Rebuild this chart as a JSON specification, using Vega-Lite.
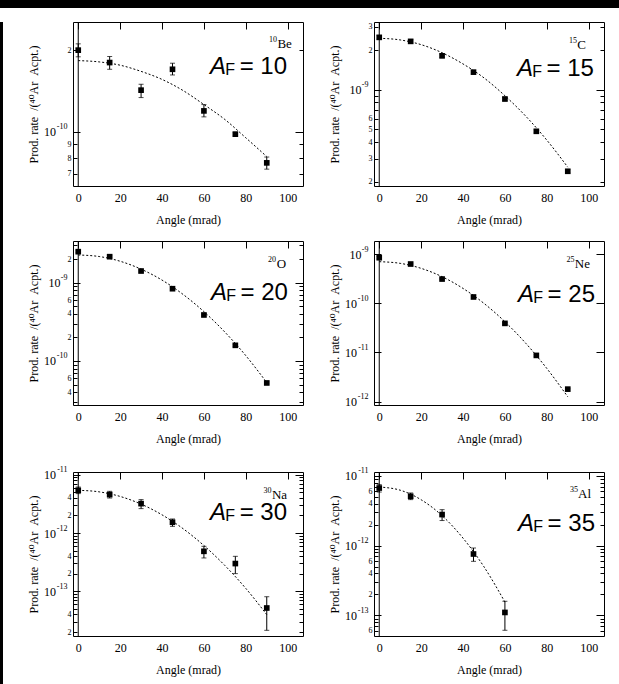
{
  "$schema": "https://vega.github.io/schema/vega-lite/v6.json",
  "background": "white",
  "padding": 0,
  "config": {
    "view": {"stroke": "black", "strokeWidth": 1},
    "axis": {"domain": false, "grid": false, "labelFont": "Liberation Serif", "titleFont": "Liberation Serif, DejaVu Serif", "labelColor": "black", "titleColor": "black", "tickColor": "black", "titleFontWeight": "normal", "labelFontSize": 12, "titleFontSize": 12, "tickWidth": 1}
  },
  "datasets": {
    "points": [
      {"panel": "Be", "angle": 0, "rate": 2.0e-10, "lo": 1.89e-10, "hi": 2.11e-10},
      {"panel": "Be", "angle": 15, "rate": 1.8e-10, "lo": 1.7e-10, "hi": 1.895e-10},
      {"panel": "Be", "angle": 30, "rate": 1.424e-10, "lo": 1.337e-10, "hi": 1.497e-10},
      {"panel": "Be", "angle": 45, "rate": 1.7e-10, "lo": 1.62e-10, "hi": 1.79e-10},
      {"panel": "Be", "angle": 60, "rate": 1.194e-10, "lo": 1.135e-10, "hi": 1.26e-10},
      {"panel": "Be", "angle": 75, "rate": 9.8e-11, "lo": 9.65e-11, "hi": 9.95e-11},
      {"panel": "Be", "angle": 90, "rate": 7.68e-11, "lo": 7.28e-11, "hi": 8.07e-11},
      {"panel": "C", "angle": 0, "rate": 2.5e-9, "lo": 2.42e-9, "hi": 2.58e-9},
      {"panel": "C", "angle": 15, "rate": 2.33e-9, "lo": 2.26e-9, "hi": 2.4e-9},
      {"panel": "C", "angle": 30, "rate": 1.81e-9, "lo": 1.75e-9, "hi": 1.87e-9},
      {"panel": "C", "angle": 45, "rate": 1.36e-9, "lo": 1.32e-9, "hi": 1.4e-9},
      {"panel": "C", "angle": 60, "rate": 8.5e-10, "lo": 8.25e-10, "hi": 8.75e-10},
      {"panel": "C", "angle": 75, "rate": 4.83e-10, "lo": 4.7e-10, "hi": 4.96e-10},
      {"panel": "C", "angle": 90, "rate": 2.4e-10, "lo": 2.33e-10, "hi": 2.47e-10},
      {"panel": "O", "angle": 0, "rate": 2.49e-9, "lo": 2.42e-9, "hi": 2.56e-9},
      {"panel": "O", "angle": 15, "rate": 2.15e-9, "lo": 2.09e-9, "hi": 2.21e-9},
      {"panel": "O", "angle": 30, "rate": 1.41e-9, "lo": 1.37e-9, "hi": 1.45e-9},
      {"panel": "O", "angle": 45, "rate": 8.38e-10, "lo": 8.15e-10, "hi": 8.6e-10},
      {"panel": "O", "angle": 60, "rate": 3.87e-10, "lo": 3.76e-10, "hi": 3.98e-10},
      {"panel": "O", "angle": 75, "rate": 1.585e-10, "lo": 1.54e-10, "hi": 1.63e-10},
      {"panel": "O", "angle": 90, "rate": 5.24e-11, "lo": 5.09e-11, "hi": 5.39e-11},
      {"panel": "Ne", "angle": 0, "rate": 8.41e-10, "lo": 7.9e-10, "hi": 8.95e-10},
      {"panel": "Ne", "angle": 15, "rate": 6.26e-10, "lo": 6.0e-10, "hi": 6.5e-10},
      {"panel": "Ne", "angle": 30, "rate": 3.1e-10, "lo": 2.98e-10, "hi": 3.22e-10},
      {"panel": "Ne", "angle": 45, "rate": 1.34e-10, "lo": 1.29e-10, "hi": 1.39e-10},
      {"panel": "Ne", "angle": 60, "rate": 3.9e-11, "lo": 3.75e-11, "hi": 4.05e-11},
      {"panel": "Ne", "angle": 75, "rate": 8.72e-12, "lo": 8.38e-12, "hi": 9.06e-12},
      {"panel": "Ne", "angle": 90, "rate": 1.8e-12, "lo": 1.73e-12, "hi": 1.87e-12},
      {"panel": "Na", "angle": 0, "rate": 5.4e-12, "lo": 4.74e-12, "hi": 6.15e-12},
      {"panel": "Na", "angle": 15, "rate": 4.56e-12, "lo": 3.98e-12, "hi": 5.19e-12},
      {"panel": "Na", "angle": 30, "rate": 3.19e-12, "lo": 2.62e-12, "hi": 3.74e-12},
      {"panel": "Na", "angle": 45, "rate": 1.53e-12, "lo": 1.3e-12, "hi": 1.74e-12},
      {"panel": "Na", "angle": 60, "rate": 4.85e-13, "lo": 3.73e-13, "hi": 5.91e-13},
      {"panel": "Na", "angle": 75, "rate": 2.99e-13, "lo": 2.01e-13, "hi": 3.98e-13},
      {"panel": "Na", "angle": 90, "rate": 5.17e-14, "lo": 2.14e-14, "hi": 8.07e-14},
      {"panel": "Al", "angle": 0, "rate": 6.7e-12, "lo": 5.87e-12, "hi": 7.5e-12},
      {"panel": "Al", "angle": 15, "rate": 5.1e-12, "lo": 4.57e-12, "hi": 5.69e-12},
      {"panel": "Al", "angle": 30, "rate": 2.79e-12, "lo": 2.29e-12, "hi": 3.28e-12},
      {"panel": "Al", "angle": 45, "rate": 7.58e-13, "lo": 5.95e-13, "hi": 9.24e-13},
      {"panel": "Al", "angle": 60, "rate": 1.1e-13, "lo": 6.1e-14, "hi": 1.59e-13}
    ],
    "fit": [
      {"panel": "Be", "angle": 0, "rate": 1.83e-10}, {"panel": "Be", "angle": 10, "rate": 1.81e-10}, {"panel": "Be", "angle": 20, "rate": 1.76e-10}, {"panel": "Be", "angle": 30, "rate": 1.67e-10}, {"panel": "Be", "angle": 40, "rate": 1.56e-10}, {"panel": "Be", "angle": 50, "rate": 1.42e-10}, {"panel": "Be", "angle": 60, "rate": 1.26e-10}, {"panel": "Be", "angle": 70, "rate": 1.11e-10}, {"panel": "Be", "angle": 80, "rate": 9.5e-11}, {"panel": "Be", "angle": 90, "rate": 8.1e-11},
      {"panel": "C", "angle": 0, "rate": 2.46e-9}, {"panel": "C", "angle": 10, "rate": 2.39e-9}, {"panel": "C", "angle": 20, "rate": 2.2e-9}, {"panel": "C", "angle": 30, "rate": 1.91e-9}, {"panel": "C", "angle": 40, "rate": 1.57e-9}, {"panel": "C", "angle": 50, "rate": 1.23e-9}, {"panel": "C", "angle": 60, "rate": 9.0e-10}, {"panel": "C", "angle": 70, "rate": 6.28e-10}, {"panel": "C", "angle": 80, "rate": 4.14e-10}, {"panel": "C", "angle": 90, "rate": 2.58e-10},
      {"panel": "O", "angle": 0, "rate": 2.26e-9}, {"panel": "O", "angle": 10, "rate": 2.16e-9}, {"panel": "O", "angle": 20, "rate": 1.88e-9}, {"panel": "O", "angle": 30, "rate": 1.49e-9}, {"panel": "O", "angle": 40, "rate": 1.08e-9}, {"panel": "O", "angle": 50, "rate": 7.1e-10}, {"panel": "O", "angle": 60, "rate": 4.27e-10}, {"panel": "O", "angle": 70, "rate": 2.34e-10}, {"panel": "O", "angle": 80, "rate": 1.17e-10}, {"panel": "O", "angle": 90, "rate": 5.3e-11},
      {"panel": "Ne", "angle": 0, "rate": 6.98e-10}, {"panel": "Ne", "angle": 10, "rate": 6.46e-10}, {"panel": "Ne", "angle": 20, "rate": 5.11e-10}, {"panel": "Ne", "angle": 30, "rate": 3.46e-10}, {"panel": "Ne", "angle": 40, "rate": 2.0e-10}, {"panel": "Ne", "angle": 50, "rate": 9.93e-11}, {"panel": "Ne", "angle": 60, "rate": 4.21e-11}, {"panel": "Ne", "angle": 70, "rate": 1.53e-11}, {"panel": "Ne", "angle": 80, "rate": 4.74e-12}, {"panel": "Ne", "angle": 90, "rate": 1.26e-12},
      {"panel": "Na", "angle": 0, "rate": 5.4e-12}, {"panel": "Na", "angle": 10, "rate": 5.08e-12}, {"panel": "Na", "angle": 20, "rate": 4.24e-12}, {"panel": "Na", "angle": 30, "rate": 3.13e-12}, {"panel": "Na", "angle": 40, "rate": 2.05e-12}, {"panel": "Na", "angle": 50, "rate": 1.19e-12}, {"panel": "Na", "angle": 60, "rate": 6.09e-13}, {"panel": "Na", "angle": 70, "rate": 2.77e-13}, {"panel": "Na", "angle": 80, "rate": 1.12e-13}, {"panel": "Na", "angle": 90, "rate": 3.98e-14},
      {"panel": "Al", "angle": 0, "rate": 6.93e-12}, {"panel": "Al", "angle": 10, "rate": 6.24e-12}, {"panel": "Al", "angle": 20, "rate": 4.55e-12}, {"panel": "Al", "angle": 30, "rate": 2.69e-12}, {"panel": "Al", "angle": 40, "rate": 1.28e-12}, {"panel": "Al", "angle": 50, "rate": 4.97e-13}, {"panel": "Al", "angle": 60, "rate": 1.55e-13}
    ]
  },
  "spacing": 13,
  "vconcat": [
    {"width": 619, "height": 8, "data": {"values": [{}]}, "mark": {"type": "point", "size": 0, "opacity": 0}, "view": {"fill": "black", "stroke": null}},
    {
      "spacing": 23,
      "hconcat": [
        {"width": 3, "height": 663, "data": {"values": [{}]}, "mark": {"type": "point", "size": 0, "opacity": 0}, "view": {"fill": "black", "stroke": null}},
        {
          "spacing": 20,
          "vconcat": [
            {
              "spacing": 14,
              "vconcat": [
                {
                  "spacing": 23,
                  "hconcat": [
                    {
                      "width": 230, "height": 164,
                      "resolve": {"axis": {"x": "independent", "y": "independent"}},
                      "layer": [
                        {"data": {"name": "fit"}, "transform": [{"filter": "datum.panel == 'Be'"}],
                         "mark": {"type": "line", "color": "black", "strokeWidth": 1, "strokeDash": [2, 2], "interpolate": "monotone"},
                         "encoding": {
                           "x": {"field": "angle", "type": "quantitative", "scale": {"domain": [-2.5, 107.3], "nice": false, "zero": false},
                                 "axis": {"orient": "bottom", "values": [0, 20, 40, 60, 80, 100], "ticks": false, "labelPadding": 6, "title": "Angle (mrad)", "titlePadding": 10, "minExtent": 18, "maxExtent": 18, "labelOverlap": false, "labelFlush": false}},
                           "y": {"field": "rate", "type": "quantitative", "scale": {"type": "log", "domain": [6.31e-11, 2.54e-10], "nice": false},
                                 "axis": {"orient": "left", "values": [7e-11, 8e-11, 9e-11, 1e-10, 2e-10],
                                          "labelExpr": "round(datum.value/pow(10,floor(log(datum.value)/LN10+1e-9)))==1 ? '10' : (indexof([2,3,4,5,6,7,8,9],round(datum.value/pow(10,floor(log(datum.value)/LN10+1e-9))))>=0 ? ''+round(datum.value/pow(10,floor(log(datum.value)/LN10+1e-9))) : '')",
                                          "labelFontSize": {"condition": {"test": "round(datum.value/pow(10,floor(log(datum.value)/LN10+1e-9)))==1", "value": 12}, "value": 8},
                                          "tickSize": {"condition": {"test": "round(datum.value/pow(10,floor(log(datum.value)/LN10+1e-9)))==1", "value": -7}, "value": -4},
                                          "labelPadding": {"condition": [{"test": "round(datum.value/pow(10,floor(log(datum.value)/LN10+1e-9)))==1 && datum.value > 5e-10", "value": 20}, {"test": "round(datum.value/pow(10,floor(log(datum.value)/LN10+1e-9)))==1", "value": 24.5}], "value": 6},
                                          "title": "Prod. rate \u00a0/(⁴⁰Ar \u00a0Acpt.)", "titlePadding": 11, "minExtent": 22, "maxExtent": 22, "labelOverlap": false, "labelFlush": false}}
                         }},
                        {"data": {"values": [{}]}, "mark": {"type": "rule", "color": "black", "strokeWidth": 1}, "encoding": {"x": {"datum": 0, "type": "quantitative", "axis": null}}},
                        {"data": {"name": "points"}, "transform": [{"filter": "datum.panel == 'Be'"}], "mark": {"type": "rule", "color": "black", "strokeWidth": 1},
                         "encoding": {"x": {"field": "angle", "type": "quantitative", "axis": null}, "y": {"field": "lo", "type": "quantitative", "axis": null}, "y2": {"field": "hi"}}},
                        {"data": {"name": "points"}, "transform": [{"filter": "datum.panel == 'Be'"}, {"fold": ["lo", "hi"], "as": ["end", "val"]}], "mark": {"type": "tick", "orient": "horizontal", "size": 5, "thickness": 1, "color": "black"},
                         "encoding": {"x": {"field": "angle", "type": "quantitative", "axis": null}, "y": {"field": "val", "type": "quantitative", "axis": null}}},
                        {"data": {"name": "points"}, "transform": [{"filter": "datum.panel == 'Be'"}], "mark": {"type": "point", "shape": "square", "filled": true, "size": 32, "color": "black", "opacity": 1},
                         "encoding": {"x": {"field": "angle", "type": "quantitative", "axis": null}, "y": {"field": "rate", "type": "quantitative", "axis": null}}},
                        {"data": {"name": "points"}, "transform": [{"filter": "datum.panel == 'Be'"}], "mark": {"type": "point", "opacity": 0},
                         "encoding": {
                           "x": {"field": "angle", "type": "quantitative", "axis": {"orient": "top", "values": [0, 20, 40, 60, 80, 100], "labels": false, "title": null, "tickSize": -7, "minExtent": 0, "maxExtent": 0}},
                           "y": {"field": "rate", "type": "quantitative", "axis": {"orient": "right", "values": [7e-11, 8e-11, 9e-11, 1e-10, 2e-10], "labels": false, "title": null, "tickSize": {"condition": {"test": "round(datum.value/pow(10,floor(log(datum.value)/LN10+1e-9)))==1", "value": -8}, "value": -4}, "minExtent": 0, "maxExtent": 0}}}},
                        {"data": {"name": "points"}, "transform": [{"filter": "datum.panel == 'Be'"}], "mark": {"type": "point", "opacity": 0},
                         "encoding": {
                           "y": {"field": "rate", "type": "quantitative", "axis": {"orient": "left", "values": [1e-10], "ticks": false, "labelExpr": "''+floor(log(datum.value)/LN10+1e-9)", "labelFontSize": 8, "labelAlign": "right", "labelPadding": 6, "labelOffset": -5, "title": null, "minExtent": 0, "maxExtent": 0, "labelOverlap": false, "labelFlush": false}}}},
                        {"data": {"values": [{}]}, "mark": {"type": "text", "text": "Be", "font": "Liberation Serif", "fontSize": 13, "align": "right", "baseline": "alphabetic", "color": "black"},
                         "encoding": {"x": {"datum": 102.0, "type": "quantitative", "axis": null}, "y": {"datum": 2.04e-10, "type": "quantitative", "axis": null}}},
                        {"data": {"values": [{}]}, "mark": {"type": "text", "text": "10", "font": "Liberation Serif", "fontSize": 8, "align": "right", "baseline": "alphabetic", "dx": -15, "dy": -6, "color": "black"},
                         "encoding": {"x": {"datum": 102.0, "type": "quantitative", "axis": null}, "y": {"datum": 2.04e-10, "type": "quantitative", "axis": null}}},
                        {"data": {"values": [{}]}, "mark": {"type": "text", "text": "A", "font": "Liberation Sans", "fontSize": 24, "fontStyle": "italic", "align": "right", "baseline": "alphabetic", "dx": -61, "color": "black"},
                         "encoding": {"x": {"datum": 99.7, "type": "quantitative", "axis": null}, "y": {"datum": 1.634e-10, "type": "quantitative", "axis": null}}},
                        {"data": {"values": [{}]}, "mark": {"type": "text", "text": "F", "font": "Liberation Sans", "fontSize": 16, "align": "right", "baseline": "alphabetic", "dx": -52, "dy": 1, "color": "black"},
                         "encoding": {"x": {"datum": 99.7, "type": "quantitative", "axis": null}, "y": {"datum": 1.634e-10, "type": "quantitative", "axis": null}}},
                        {"data": {"values": [{}]}, "mark": {"type": "text", "text": "= 10", "font": "Liberation Sans", "fontSize": 24, "align": "right", "baseline": "alphabetic", "color": "black"},
                         "encoding": {"x": {"datum": 99.7, "type": "quantitative", "axis": null}, "y": {"datum": 1.634e-10, "type": "quantitative", "axis": null}}}
                      ]
                    },
                    {
                      "width": 230, "height": 164,
                      "resolve": {"axis": {"x": "independent", "y": "independent"}},
                      "layer": [
                        {"data": {"name": "fit"}, "transform": [{"filter": "datum.panel == 'C'"}],
                         "mark": {"type": "line", "color": "black", "strokeWidth": 1, "strokeDash": [2, 2], "interpolate": "monotone"},
                         "encoding": {
                           "x": {"field": "angle", "type": "quantitative", "scale": {"domain": [-2.5, 107.3], "nice": false, "zero": false},
                                 "axis": {"orient": "bottom", "values": [0, 20, 40, 60, 80, 100], "ticks": false, "labelPadding": 6, "title": "Angle (mrad)", "titlePadding": 10, "minExtent": 18, "maxExtent": 18, "labelOverlap": false, "labelFlush": false}},
                           "y": {"field": "rate", "type": "quantitative", "scale": {"type": "log", "domain": [1.855e-10, 3.27e-9], "nice": false},
                                 "axis": {"orient": "left", "values": [2e-10, 3e-10, 4e-10, 5e-10, 6e-10, 7e-10, 8e-10, 9e-10, 1e-9, 2e-9, 3e-9],
                                          "labelExpr": "round(datum.value/pow(10,floor(log(datum.value)/LN10+1e-9)))==1 ? '10' : (indexof([2,3,4,5,6],round(datum.value/pow(10,floor(log(datum.value)/LN10+1e-9))))>=0 ? ''+round(datum.value/pow(10,floor(log(datum.value)/LN10+1e-9))) : '')",
                                          "labelFontSize": {"condition": {"test": "round(datum.value/pow(10,floor(log(datum.value)/LN10+1e-9)))==1", "value": 12}, "value": 8},
                                          "tickSize": {"condition": {"test": "round(datum.value/pow(10,floor(log(datum.value)/LN10+1e-9)))==1", "value": -7}, "value": -4},
                                          "labelPadding": {"condition": [{"test": "round(datum.value/pow(10,floor(log(datum.value)/LN10+1e-9)))==1 && datum.value > 5e-10", "value": 20}, {"test": "round(datum.value/pow(10,floor(log(datum.value)/LN10+1e-9)))==1", "value": 24.5}], "value": 6},
                                          "title": "Prod. rate \u00a0/(⁴⁰Ar \u00a0Acpt.)", "titlePadding": 11, "minExtent": 22, "maxExtent": 22, "labelOverlap": false, "labelFlush": false}}
                         }},
                        {"data": {"values": [{}]}, "mark": {"type": "rule", "color": "black", "strokeWidth": 1}, "encoding": {"x": {"datum": 0, "type": "quantitative", "axis": null}}},
                        {"data": {"name": "points"}, "transform": [{"filter": "datum.panel == 'C'"}], "mark": {"type": "rule", "color": "black", "strokeWidth": 1},
                         "encoding": {"x": {"field": "angle", "type": "quantitative", "axis": null}, "y": {"field": "lo", "type": "quantitative", "axis": null}, "y2": {"field": "hi"}}},
                        {"data": {"name": "points"}, "transform": [{"filter": "datum.panel == 'C'"}, {"fold": ["lo", "hi"], "as": ["end", "val"]}], "mark": {"type": "tick", "orient": "horizontal", "size": 5, "thickness": 1, "color": "black"},
                         "encoding": {"x": {"field": "angle", "type": "quantitative", "axis": null}, "y": {"field": "val", "type": "quantitative", "axis": null}}},
                        {"data": {"name": "points"}, "transform": [{"filter": "datum.panel == 'C'"}], "mark": {"type": "point", "shape": "square", "filled": true, "size": 32, "color": "black", "opacity": 1},
                         "encoding": {"x": {"field": "angle", "type": "quantitative", "axis": null}, "y": {"field": "rate", "type": "quantitative", "axis": null}}},
                        {"data": {"name": "points"}, "transform": [{"filter": "datum.panel == 'C'"}], "mark": {"type": "point", "opacity": 0},
                         "encoding": {
                           "x": {"field": "angle", "type": "quantitative", "axis": {"orient": "top", "values": [0, 20, 40, 60, 80, 100], "labels": false, "title": null, "tickSize": -7, "minExtent": 0, "maxExtent": 0}},
                           "y": {"field": "rate", "type": "quantitative", "axis": {"orient": "right", "values": [2e-10, 3e-10, 4e-10, 5e-10, 6e-10, 7e-10, 8e-10, 9e-10, 1e-9, 2e-9, 3e-9], "labels": false, "title": null, "tickSize": {"condition": {"test": "round(datum.value/pow(10,floor(log(datum.value)/LN10+1e-9)))==1", "value": -8}, "value": -4}, "minExtent": 0, "maxExtent": 0}}}},
                        {"data": {"name": "points"}, "transform": [{"filter": "datum.panel == 'C'"}], "mark": {"type": "point", "opacity": 0},
                         "encoding": {
                           "y": {"field": "rate", "type": "quantitative", "axis": {"orient": "left", "values": [1e-9], "ticks": false, "labelExpr": "''+floor(log(datum.value)/LN10+1e-9)", "labelFontSize": 8, "labelAlign": "right", "labelPadding": 6, "labelOffset": -5, "title": null, "minExtent": 0, "maxExtent": 0, "labelOverlap": false, "labelFlush": false}}}},
                        {"data": {"values": [{}]}, "mark": {"type": "text", "text": "C", "font": "Liberation Serif", "fontSize": 13, "align": "right", "baseline": "alphabetic", "color": "black"},
                         "encoding": {"x": {"datum": 98.7, "type": "quantitative", "axis": null}, "y": {"datum": 2.04e-9, "type": "quantitative", "axis": null}}},
                        {"data": {"values": [{}]}, "mark": {"type": "text", "text": "15", "font": "Liberation Serif", "fontSize": 8, "align": "right", "baseline": "alphabetic", "dx": -9, "dy": -6, "color": "black"},
                         "encoding": {"x": {"datum": 98.7, "type": "quantitative", "axis": null}, "y": {"datum": 2.04e-9, "type": "quantitative", "axis": null}}},
                        {"data": {"values": [{}]}, "mark": {"type": "text", "text": "A", "font": "Liberation Sans", "fontSize": 24, "fontStyle": "italic", "align": "right", "baseline": "alphabetic", "dx": -61, "color": "black"},
                         "encoding": {"x": {"datum": 102.5, "type": "quantitative", "axis": null}, "y": {"datum": 1.264e-9, "type": "quantitative", "axis": null}}},
                        {"data": {"values": [{}]}, "mark": {"type": "text", "text": "F", "font": "Liberation Sans", "fontSize": 16, "align": "right", "baseline": "alphabetic", "dx": -52, "dy": 1, "color": "black"},
                         "encoding": {"x": {"datum": 102.5, "type": "quantitative", "axis": null}, "y": {"datum": 1.264e-9, "type": "quantitative", "axis": null}}},
                        {"data": {"values": [{}]}, "mark": {"type": "text", "text": "= 15", "font": "Liberation Sans", "fontSize": 24, "align": "right", "baseline": "alphabetic", "color": "black"},
                         "encoding": {"x": {"datum": 102.5, "type": "quantitative", "axis": null}, "y": {"datum": 1.264e-9, "type": "quantitative", "axis": null}}}
                      ]
                    }
                  ]
                },
                {
                  "spacing": 23,
                  "hconcat": [
                    {
                      "width": 230, "height": 164,
                      "resolve": {"axis": {"x": "independent", "y": "independent"}},
                      "layer": [
                        {"data": {"name": "fit"}, "transform": [{"filter": "datum.panel == 'O'"}],
                         "mark": {"type": "line", "color": "black", "strokeWidth": 1, "strokeDash": [2, 2], "interpolate": "monotone"},
                         "encoding": {
                           "x": {"field": "angle", "type": "quantitative", "scale": {"domain": [-2.5, 107.3], "nice": false, "zero": false},
                                 "axis": {"orient": "bottom", "values": [0, 20, 40, 60, 80, 100], "ticks": false, "labelPadding": 6, "title": "Angle (mrad)", "titlePadding": 10, "minExtent": 18, "maxExtent": 18, "labelOverlap": false, "labelFlush": false}},
                           "y": {"field": "rate", "type": "quantitative", "scale": {"type": "log", "domain": [2.74e-11, 3.41e-9], "nice": false},
                                 "axis": {"orient": "left", "values": [3e-11, 4e-11, 5e-11, 6e-11, 7e-11, 8e-11, 9e-11, 1e-10, 2e-10, 3e-10, 4e-10, 5e-10, 6e-10, 7e-10, 8e-10, 9e-10, 1e-9, 2e-9, 3e-9],
                                          "labelExpr": "round(datum.value/pow(10,floor(log(datum.value)/LN10+1e-9)))==1 ? '10' : (indexof([2,4,6],round(datum.value/pow(10,floor(log(datum.value)/LN10+1e-9))))>=0 ? ''+round(datum.value/pow(10,floor(log(datum.value)/LN10+1e-9))) : '')",
                                          "labelFontSize": {"condition": {"test": "round(datum.value/pow(10,floor(log(datum.value)/LN10+1e-9)))==1", "value": 12}, "value": 8},
                                          "tickSize": {"condition": {"test": "round(datum.value/pow(10,floor(log(datum.value)/LN10+1e-9)))==1", "value": -7}, "value": -4},
                                          "labelPadding": {"condition": [{"test": "round(datum.value/pow(10,floor(log(datum.value)/LN10+1e-9)))==1 && datum.value > 5e-10", "value": 20}, {"test": "round(datum.value/pow(10,floor(log(datum.value)/LN10+1e-9)))==1", "value": 24.5}], "value": 6},
                                          "title": "Prod. rate \u00a0/(⁴⁰Ar \u00a0Acpt.)", "titlePadding": 11, "minExtent": 22, "maxExtent": 22, "labelOverlap": false, "labelFlush": false}}
                         }},
                        {"data": {"values": [{}]}, "mark": {"type": "rule", "color": "black", "strokeWidth": 1}, "encoding": {"x": {"datum": 0, "type": "quantitative", "axis": null}}},
                        {"data": {"name": "points"}, "transform": [{"filter": "datum.panel == 'O'"}], "mark": {"type": "rule", "color": "black", "strokeWidth": 1},
                         "encoding": {"x": {"field": "angle", "type": "quantitative", "axis": null}, "y": {"field": "lo", "type": "quantitative", "axis": null}, "y2": {"field": "hi"}}},
                        {"data": {"name": "points"}, "transform": [{"filter": "datum.panel == 'O'"}, {"fold": ["lo", "hi"], "as": ["end", "val"]}], "mark": {"type": "tick", "orient": "horizontal", "size": 5, "thickness": 1, "color": "black"},
                         "encoding": {"x": {"field": "angle", "type": "quantitative", "axis": null}, "y": {"field": "val", "type": "quantitative", "axis": null}}},
                        {"data": {"name": "points"}, "transform": [{"filter": "datum.panel == 'O'"}], "mark": {"type": "point", "shape": "square", "filled": true, "size": 32, "color": "black", "opacity": 1},
                         "encoding": {"x": {"field": "angle", "type": "quantitative", "axis": null}, "y": {"field": "rate", "type": "quantitative", "axis": null}}},
                        {"data": {"name": "points"}, "transform": [{"filter": "datum.panel == 'O'"}], "mark": {"type": "point", "opacity": 0},
                         "encoding": {
                           "x": {"field": "angle", "type": "quantitative", "axis": {"orient": "top", "values": [0, 20, 40, 60, 80, 100], "labels": false, "title": null, "tickSize": -7, "minExtent": 0, "maxExtent": 0}},
                           "y": {"field": "rate", "type": "quantitative", "axis": {"orient": "right", "values": [3e-11, 4e-11, 5e-11, 6e-11, 7e-11, 8e-11, 9e-11, 1e-10, 2e-10, 3e-10, 4e-10, 5e-10, 6e-10, 7e-10, 8e-10, 9e-10, 1e-9, 2e-9, 3e-9], "labels": false, "title": null, "tickSize": {"condition": {"test": "round(datum.value/pow(10,floor(log(datum.value)/LN10+1e-9)))==1", "value": -8}, "value": -4}, "minExtent": 0, "maxExtent": 0}}}},
                        {"data": {"name": "points"}, "transform": [{"filter": "datum.panel == 'O'"}], "mark": {"type": "point", "opacity": 0},
                         "encoding": {
                           "y": {"field": "rate", "type": "quantitative", "axis": {"orient": "left", "values": [1e-10, 1e-9], "ticks": false, "labelExpr": "''+floor(log(datum.value)/LN10+1e-9)", "labelFontSize": 8, "labelAlign": "right", "labelPadding": 6, "labelOffset": -5, "title": null, "minExtent": 0, "maxExtent": 0, "labelOverlap": false, "labelFlush": false}}}},
                        {"data": {"values": [{}]}, "mark": {"type": "text", "text": "O", "font": "Liberation Serif", "fontSize": 13, "align": "right", "baseline": "alphabetic", "color": "black"},
                         "encoding": {"x": {"datum": 99.2, "type": "quantitative", "axis": null}, "y": {"datum": 1.555e-9, "type": "quantitative", "axis": null}}},
                        {"data": {"values": [{}]}, "mark": {"type": "text", "text": "20", "font": "Liberation Serif", "fontSize": 8, "align": "right", "baseline": "alphabetic", "dx": -10, "dy": -6, "color": "black"},
                         "encoding": {"x": {"datum": 99.2, "type": "quantitative", "axis": null}, "y": {"datum": 1.555e-9, "type": "quantitative", "axis": null}}},
                        {"data": {"values": [{}]}, "mark": {"type": "text", "text": "A", "font": "Liberation Sans", "fontSize": 24, "fontStyle": "italic", "align": "right", "baseline": "alphabetic", "dx": -61, "color": "black"},
                         "encoding": {"x": {"datum": 100.1, "type": "quantitative", "axis": null}, "y": {"datum": 6.02e-10, "type": "quantitative", "axis": null}}},
                        {"data": {"values": [{}]}, "mark": {"type": "text", "text": "F", "font": "Liberation Sans", "fontSize": 16, "align": "right", "baseline": "alphabetic", "dx": -52, "dy": 1, "color": "black"},
                         "encoding": {"x": {"datum": 100.1, "type": "quantitative", "axis": null}, "y": {"datum": 6.02e-10, "type": "quantitative", "axis": null}}},
                        {"data": {"values": [{}]}, "mark": {"type": "text", "text": "= 20", "font": "Liberation Sans", "fontSize": 24, "align": "right", "baseline": "alphabetic", "color": "black"},
                         "encoding": {"x": {"datum": 100.1, "type": "quantitative", "axis": null}, "y": {"datum": 6.02e-10, "type": "quantitative", "axis": null}}}
                      ]
                    },
                    {
                      "width": 230, "height": 164,
                      "resolve": {"axis": {"x": "independent", "y": "independent"}},
                      "layer": [
                        {"data": {"name": "fit"}, "transform": [{"filter": "datum.panel == 'Ne'"}],
                         "mark": {"type": "line", "color": "black", "strokeWidth": 1, "strokeDash": [2, 2], "interpolate": "monotone"},
                         "encoding": {
                           "x": {"field": "angle", "type": "quantitative", "scale": {"domain": [-2.5, 107.3], "nice": false, "zero": false},
                                 "axis": {"orient": "bottom", "values": [0, 20, 40, 60, 80, 100], "ticks": false, "labelPadding": 6, "title": "Angle (mrad)", "titlePadding": 10, "minExtent": 18, "maxExtent": 18, "labelOverlap": false, "labelFlush": false}},
                           "y": {"field": "rate", "type": "quantitative", "scale": {"type": "log", "domain": [8.57e-13, 1.837e-9], "nice": false},
                                 "axis": {"orient": "left", "values": [1e-12, 1e-11, 1e-10, 1e-9],
                                          "labelExpr": "'10'",
                                          "labelFontSize": 12,
                                          "tickSize": -7,
                                          "labelPadding": {"condition": {"test": "datum.value > 5e-10", "value": 20}, "value": 24.5},
                                          "title": "Prod. rate \u00a0/(⁴⁰Ar \u00a0Acpt.)", "titlePadding": 11, "minExtent": 22, "maxExtent": 22, "labelOverlap": false, "labelFlush": false}}
                         }},
                        {"data": {"values": [{}]}, "mark": {"type": "rule", "color": "black", "strokeWidth": 1}, "encoding": {"x": {"datum": 0, "type": "quantitative", "axis": null}}},
                        {"data": {"name": "points"}, "transform": [{"filter": "datum.panel == 'Ne'"}], "mark": {"type": "rule", "color": "black", "strokeWidth": 1},
                         "encoding": {"x": {"field": "angle", "type": "quantitative", "axis": null}, "y": {"field": "lo", "type": "quantitative", "axis": null}, "y2": {"field": "hi"}}},
                        {"data": {"name": "points"}, "transform": [{"filter": "datum.panel == 'Ne'"}, {"fold": ["lo", "hi"], "as": ["end", "val"]}], "mark": {"type": "tick", "orient": "horizontal", "size": 5, "thickness": 1, "color": "black"},
                         "encoding": {"x": {"field": "angle", "type": "quantitative", "axis": null}, "y": {"field": "val", "type": "quantitative", "axis": null}}},
                        {"data": {"name": "points"}, "transform": [{"filter": "datum.panel == 'Ne'"}], "mark": {"type": "point", "shape": "square", "filled": true, "size": 32, "color": "black", "opacity": 1},
                         "encoding": {"x": {"field": "angle", "type": "quantitative", "axis": null}, "y": {"field": "rate", "type": "quantitative", "axis": null}}},
                        {"data": {"name": "points"}, "transform": [{"filter": "datum.panel == 'Ne'"}], "mark": {"type": "point", "opacity": 0},
                         "encoding": {
                           "x": {"field": "angle", "type": "quantitative", "axis": {"orient": "top", "values": [0, 20, 40, 60, 80, 100], "labels": false, "title": null, "tickSize": -7, "minExtent": 0, "maxExtent": 0}},
                           "y": {"field": "rate", "type": "quantitative", "axis": {"orient": "right", "values": [1e-12, 1e-11, 1e-10, 1e-9], "labels": false, "title": null, "tickSize": -8, "minExtent": 0, "maxExtent": 0}}}},
                        {"data": {"name": "points"}, "transform": [{"filter": "datum.panel == 'Ne'"}], "mark": {"type": "point", "opacity": 0},
                         "encoding": {
                           "y": {"field": "rate", "type": "quantitative", "axis": {"orient": "left", "values": [1e-12, 1e-11, 1e-10, 1e-9], "ticks": false, "labelExpr": "''+floor(log(datum.value)/LN10+1e-9)", "labelFontSize": 8, "labelAlign": "right", "labelPadding": 6, "labelOffset": -5, "title": null, "minExtent": 0, "maxExtent": 0, "labelOverlap": false, "labelFlush": false}}}},
                        {"data": {"values": [{}]}, "mark": {"type": "text", "text": "Ne", "font": "Liberation Serif", "fontSize": 13, "align": "right", "baseline": "alphabetic", "color": "black"},
                         "encoding": {"x": {"datum": 100.6, "type": "quantitative", "axis": null}, "y": {"datum": 5.27e-10, "type": "quantitative", "axis": null}}},
                        {"data": {"values": [{}]}, "mark": {"type": "text", "text": "25", "font": "Liberation Serif", "fontSize": 8, "align": "right", "baseline": "alphabetic", "dx": -15.5, "dy": -6, "color": "black"},
                         "encoding": {"x": {"datum": 100.6, "type": "quantitative", "axis": null}, "y": {"datum": 5.27e-10, "type": "quantitative", "axis": null}}},
                        {"data": {"values": [{}]}, "mark": {"type": "text", "text": "A", "font": "Liberation Sans", "fontSize": 24, "fontStyle": "italic", "align": "right", "baseline": "alphabetic", "dx": -61, "color": "black"},
                         "encoding": {"x": {"datum": 103.0, "type": "quantitative", "axis": null}, "y": {"datum": 1.059e-10, "type": "quantitative", "axis": null}}},
                        {"data": {"values": [{}]}, "mark": {"type": "text", "text": "F", "font": "Liberation Sans", "fontSize": 16, "align": "right", "baseline": "alphabetic", "dx": -52, "dy": 1, "color": "black"},
                         "encoding": {"x": {"datum": 103.0, "type": "quantitative", "axis": null}, "y": {"datum": 1.059e-10, "type": "quantitative", "axis": null}}},
                        {"data": {"values": [{}]}, "mark": {"type": "text", "text": "= 25", "font": "Liberation Sans", "fontSize": 24, "align": "right", "baseline": "alphabetic", "color": "black"},
                         "encoding": {"x": {"datum": 103.0, "type": "quantitative", "axis": null}, "y": {"datum": 1.059e-10, "type": "quantitative", "axis": null}}}
                      ]
                    }
                  ]
                }
              ]
            },
            {
              "spacing": 23,
              "hconcat": [
                {
                  "width": 230, "height": 164,
                  "resolve": {"axis": {"x": "independent", "y": "independent"}},
                  "layer": [
                    {"data": {"name": "fit"}, "transform": [{"filter": "datum.panel == 'Na'"}],
                     "mark": {"type": "line", "color": "black", "strokeWidth": 1, "strokeDash": [2, 2], "interpolate": "monotone"},
                     "encoding": {
                       "x": {"field": "angle", "type": "quantitative", "scale": {"domain": [-2.5, 107.3], "nice": false, "zero": false},
                             "axis": {"orient": "bottom", "values": [0, 20, 40, 60, 80, 100], "ticks": false, "labelPadding": 6, "title": "Angle (mrad)", "titlePadding": 10, "minExtent": 18, "maxExtent": 18, "labelOverlap": false, "labelFlush": false}},
                       "y": {"field": "rate", "type": "quantitative", "scale": {"type": "log", "domain": [1.71e-14, 1.113e-11], "nice": false},
                             "axis": {"orient": "left", "values": [2e-14, 3e-14, 4e-14, 5e-14, 6e-14, 7e-14, 8e-14, 9e-14, 1e-13, 2e-13, 3e-13, 4e-13, 5e-13, 6e-13, 7e-13, 8e-13, 9e-13, 1e-12, 2e-12, 3e-12, 4e-12, 5e-12, 6e-12, 7e-12, 8e-12, 9e-12, 1e-11],
                                      "labelExpr": "round(datum.value/pow(10,floor(log(datum.value)/LN10+1e-9)))==1 ? '10' : (indexof([2,4],round(datum.value/pow(10,floor(log(datum.value)/LN10+1e-9))))>=0 ? ''+round(datum.value/pow(10,floor(log(datum.value)/LN10+1e-9))) : '')",
                                      "labelFontSize": {"condition": {"test": "round(datum.value/pow(10,floor(log(datum.value)/LN10+1e-9)))==1", "value": 12}, "value": 8},
                                      "tickSize": {"condition": {"test": "round(datum.value/pow(10,floor(log(datum.value)/LN10+1e-9)))==1", "value": -7}, "value": -4},
                                      "labelPadding": {"condition": {"test": "round(datum.value/pow(10,floor(log(datum.value)/LN10+1e-9)))==1", "value": 24.5}, "value": 6},
                                      "title": "Prod. rate \u00a0/(⁴⁰Ar \u00a0Acpt.)", "titlePadding": 11, "minExtent": 22, "maxExtent": 22, "labelOverlap": false, "labelFlush": false}}
                     }},
                    {"data": {"values": [{}]}, "mark": {"type": "rule", "color": "black", "strokeWidth": 1}, "encoding": {"x": {"datum": 0, "type": "quantitative", "axis": null}}},
                    {"data": {"name": "points"}, "transform": [{"filter": "datum.panel == 'Na'"}], "mark": {"type": "rule", "color": "black", "strokeWidth": 1},
                     "encoding": {"x": {"field": "angle", "type": "quantitative", "axis": null}, "y": {"field": "lo", "type": "quantitative", "axis": null}, "y2": {"field": "hi"}}},
                    {"data": {"name": "points"}, "transform": [{"filter": "datum.panel == 'Na'"}, {"fold": ["lo", "hi"], "as": ["end", "val"]}], "mark": {"type": "tick", "orient": "horizontal", "size": 5, "thickness": 1, "color": "black"},
                     "encoding": {"x": {"field": "angle", "type": "quantitative", "axis": null}, "y": {"field": "val", "type": "quantitative", "axis": null}}},
                    {"data": {"name": "points"}, "transform": [{"filter": "datum.panel == 'Na'"}], "mark": {"type": "point", "shape": "square", "filled": true, "size": 32, "color": "black", "opacity": 1},
                     "encoding": {"x": {"field": "angle", "type": "quantitative", "axis": null}, "y": {"field": "rate", "type": "quantitative", "axis": null}}},
                    {"data": {"name": "points"}, "transform": [{"filter": "datum.panel == 'Na'"}], "mark": {"type": "point", "opacity": 0},
                     "encoding": {
                       "x": {"field": "angle", "type": "quantitative", "axis": {"orient": "top", "values": [0, 20, 40, 60, 80, 100], "labels": false, "title": null, "tickSize": -7, "minExtent": 0, "maxExtent": 0}},
                       "y": {"field": "rate", "type": "quantitative", "axis": {"orient": "right", "values": [2e-14, 3e-14, 4e-14, 5e-14, 6e-14, 7e-14, 8e-14, 9e-14, 1e-13, 2e-13, 3e-13, 4e-13, 5e-13, 6e-13, 7e-13, 8e-13, 9e-13, 1e-12, 2e-12, 3e-12, 4e-12, 5e-12, 6e-12, 7e-12, 8e-12, 9e-12, 1e-11], "labels": false, "title": null, "tickSize": {"condition": {"test": "round(datum.value/pow(10,floor(log(datum.value)/LN10+1e-9)))==1", "value": -8}, "value": -4}, "minExtent": 0, "maxExtent": 0}}}},
                    {"data": {"name": "points"}, "transform": [{"filter": "datum.panel == 'Na'"}], "mark": {"type": "point", "opacity": 0},
                     "encoding": {
                       "y": {"field": "rate", "type": "quantitative", "axis": {"orient": "left", "values": [1e-13, 1e-12, 1e-11], "ticks": false, "labelExpr": "''+floor(log(datum.value)/LN10+1e-9)", "labelFontSize": 8, "labelAlign": "right", "labelPadding": 6, "labelOffset": -5, "title": null, "minExtent": 0, "maxExtent": 0, "labelOverlap": false, "labelFlush": false}}}},
                    {"data": {"values": [{}]}, "mark": {"type": "text", "text": "Na", "font": "Liberation Serif", "fontSize": 13, "align": "right", "baseline": "alphabetic", "color": "black"},
                     "encoding": {"x": {"datum": 99.7, "type": "quantitative", "axis": null}, "y": {"datum": 3.83e-12, "type": "quantitative", "axis": null}}},
                    {"data": {"values": [{}]}, "mark": {"type": "text", "text": "30", "font": "Liberation Serif", "fontSize": 8, "align": "right", "baseline": "alphabetic", "dx": -15.5, "dy": -6, "color": "black"},
                     "encoding": {"x": {"datum": 99.7, "type": "quantitative", "axis": null}, "y": {"datum": 3.83e-12, "type": "quantitative", "axis": null}}},
                    {"data": {"values": [{}]}, "mark": {"type": "text", "text": "A", "font": "Liberation Sans", "fontSize": 24, "fontStyle": "italic", "align": "right", "baseline": "alphabetic", "dx": -61, "color": "black"},
                     "encoding": {"x": {"datum": 99.7, "type": "quantitative", "axis": null}, "y": {"datum": 1.672e-12, "type": "quantitative", "axis": null}}},
                    {"data": {"values": [{}]}, "mark": {"type": "text", "text": "F", "font": "Liberation Sans", "fontSize": 16, "align": "right", "baseline": "alphabetic", "dx": -52, "dy": 1, "color": "black"},
                     "encoding": {"x": {"datum": 99.7, "type": "quantitative", "axis": null}, "y": {"datum": 1.672e-12, "type": "quantitative", "axis": null}}},
                    {"data": {"values": [{}]}, "mark": {"type": "text", "text": "= 30", "font": "Liberation Sans", "fontSize": 24, "align": "right", "baseline": "alphabetic", "color": "black"},
                     "encoding": {"x": {"datum": 99.7, "type": "quantitative", "axis": null}, "y": {"datum": 1.672e-12, "type": "quantitative", "axis": null}}}
                  ]
                },
                {
                  "width": 230, "height": 164,
                  "resolve": {"axis": {"x": "independent", "y": "independent"}},
                  "layer": [
                    {"data": {"name": "fit"}, "transform": [{"filter": "datum.panel == 'Al'"}],
                     "mark": {"type": "line", "color": "black", "strokeWidth": 1, "strokeDash": [2, 2], "interpolate": "monotone"},
                     "encoding": {
                       "x": {"field": "angle", "type": "quantitative", "scale": {"domain": [-2.5, 107.3], "nice": false, "zero": false},
                             "axis": {"orient": "bottom", "values": [0, 20, 40, 60, 80, 100], "ticks": false, "labelPadding": 6, "title": "Angle (mrad)", "titlePadding": 10, "minExtent": 18, "maxExtent": 18, "labelOverlap": false, "labelFlush": false}},
                       "y": {"field": "rate", "type": "quantitative", "scale": {"type": "log", "domain": [5.05e-14, 1.138e-11], "nice": false},
                             "axis": {"orient": "left", "values": [6e-14, 7e-14, 8e-14, 9e-14, 1e-13, 2e-13, 3e-13, 4e-13, 5e-13, 6e-13, 7e-13, 8e-13, 9e-13, 1e-12, 2e-12, 3e-12, 4e-12, 5e-12, 6e-12, 7e-12, 8e-12, 9e-12, 1e-11],
                                      "labelExpr": "round(datum.value/pow(10,floor(log(datum.value)/LN10+1e-9)))==1 ? '10' : (indexof([2,4,6],round(datum.value/pow(10,floor(log(datum.value)/LN10+1e-9))))>=0 ? ''+round(datum.value/pow(10,floor(log(datum.value)/LN10+1e-9))) : '')",
                                      "labelFontSize": {"condition": {"test": "round(datum.value/pow(10,floor(log(datum.value)/LN10+1e-9)))==1", "value": 12}, "value": 8},
                                      "tickSize": {"condition": {"test": "round(datum.value/pow(10,floor(log(datum.value)/LN10+1e-9)))==1", "value": -7}, "value": -4},
                                      "labelPadding": {"condition": {"test": "round(datum.value/pow(10,floor(log(datum.value)/LN10+1e-9)))==1", "value": 24.5}, "value": 6},
                                      "title": "Prod. rate \u00a0/(⁴⁰Ar \u00a0Acpt.)", "titlePadding": 11, "minExtent": 22, "maxExtent": 22, "labelOverlap": false, "labelFlush": false}}
                     }},
                    {"data": {"values": [{}]}, "mark": {"type": "rule", "color": "black", "strokeWidth": 1}, "encoding": {"x": {"datum": 0, "type": "quantitative", "axis": null}}},
                    {"data": {"name": "points"}, "transform": [{"filter": "datum.panel == 'Al'"}], "mark": {"type": "rule", "color": "black", "strokeWidth": 1},
                     "encoding": {"x": {"field": "angle", "type": "quantitative", "axis": null}, "y": {"field": "lo", "type": "quantitative", "axis": null}, "y2": {"field": "hi"}}},
                    {"data": {"name": "points"}, "transform": [{"filter": "datum.panel == 'Al'"}, {"fold": ["lo", "hi"], "as": ["end", "val"]}], "mark": {"type": "tick", "orient": "horizontal", "size": 5, "thickness": 1, "color": "black"},
                     "encoding": {"x": {"field": "angle", "type": "quantitative", "axis": null}, "y": {"field": "val", "type": "quantitative", "axis": null}}},
                    {"data": {"name": "points"}, "transform": [{"filter": "datum.panel == 'Al'"}], "mark": {"type": "point", "shape": "square", "filled": true, "size": 32, "color": "black", "opacity": 1},
                     "encoding": {"x": {"field": "angle", "type": "quantitative", "axis": null}, "y": {"field": "rate", "type": "quantitative", "axis": null}}},
                    {"data": {"name": "points"}, "transform": [{"filter": "datum.panel == 'Al'"}], "mark": {"type": "point", "opacity": 0},
                     "encoding": {
                       "x": {"field": "angle", "type": "quantitative", "axis": {"orient": "top", "values": [0, 20, 40, 60, 80, 100], "labels": false, "title": null, "tickSize": -7, "minExtent": 0, "maxExtent": 0}},
                       "y": {"field": "rate", "type": "quantitative", "axis": {"orient": "right", "values": [6e-14, 7e-14, 8e-14, 9e-14, 1e-13, 2e-13, 3e-13, 4e-13, 5e-13, 6e-13, 7e-13, 8e-13, 9e-13, 1e-12, 2e-12, 3e-12, 4e-12, 5e-12, 6e-12, 7e-12, 8e-12, 9e-12, 1e-11], "labels": false, "title": null, "tickSize": {"condition": {"test": "round(datum.value/pow(10,floor(log(datum.value)/LN10+1e-9)))==1", "value": -8}, "value": -4}, "minExtent": 0, "maxExtent": 0}}}},
                    {"data": {"name": "points"}, "transform": [{"filter": "datum.panel == 'Al'"}], "mark": {"type": "point", "opacity": 0},
                     "encoding": {
                       "y": {"field": "rate", "type": "quantitative", "axis": {"orient": "left", "values": [1e-13, 1e-12, 1e-11], "ticks": false, "labelExpr": "''+floor(log(datum.value)/LN10+1e-9)", "labelFontSize": 8, "labelAlign": "right", "labelPadding": 6, "labelOffset": -5, "title": null, "minExtent": 0, "maxExtent": 0, "labelOverlap": false, "labelFlush": false}}}},
                    {"data": {"values": [{}]}, "mark": {"type": "text", "text": "Al", "font": "Liberation Serif", "fontSize": 13, "align": "right", "baseline": "alphabetic", "color": "black"},
                     "encoding": {"x": {"datum": 101.1, "type": "quantitative", "axis": null}, "y": {"datum": 4.82e-12, "type": "quantitative", "axis": null}}},
                    {"data": {"values": [{}]}, "mark": {"type": "text", "text": "35", "font": "Liberation Serif", "fontSize": 8, "align": "right", "baseline": "alphabetic", "dx": -13, "dy": -6, "color": "black"},
                     "encoding": {"x": {"datum": 101.1, "type": "quantitative", "axis": null}, "y": {"datum": 4.82e-12, "type": "quantitative", "axis": null}}},
                    {"data": {"values": [{}]}, "mark": {"type": "text", "text": "A", "font": "Liberation Sans", "fontSize": 24, "fontStyle": "italic", "align": "right", "baseline": "alphabetic", "dx": -61, "color": "black"},
                     "encoding": {"x": {"datum": 103.0, "type": "quantitative", "axis": null}, "y": {"datum": 1.621e-12, "type": "quantitative", "axis": null}}},
                    {"data": {"values": [{}]}, "mark": {"type": "text", "text": "F", "font": "Liberation Sans", "fontSize": 16, "align": "right", "baseline": "alphabetic", "dx": -52, "dy": 1, "color": "black"},
                     "encoding": {"x": {"datum": 103.0, "type": "quantitative", "axis": null}, "y": {"datum": 1.621e-12, "type": "quantitative", "axis": null}}},
                    {"data": {"values": [{}]}, "mark": {"type": "text", "text": "= 35", "font": "Liberation Sans", "fontSize": 24, "align": "right", "baseline": "alphabetic", "color": "black"},
                     "encoding": {"x": {"datum": 103.0, "type": "quantitative", "axis": null}, "y": {"datum": 1.621e-12, "type": "quantitative", "axis": null}}}
                  ]
                }
              ]
            }
          ]
        }
      ]
    }
  ]
}
